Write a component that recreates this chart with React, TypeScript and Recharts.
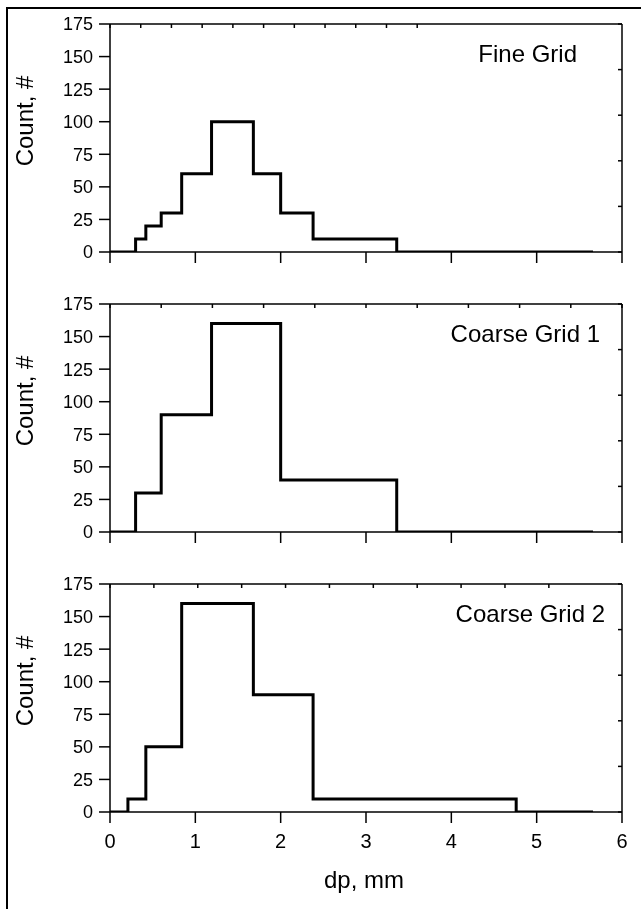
import { Label, Line, LineChart, XAxis, YAxis } from "recharts";

// bin edges (mm) and counts per bin; last edge closes the step
const fineEdges = [0, 0.3, 0.42, 0.6, 0.84, 1.19, 1.68, 2.0, 2.38, 3.36, 5.66];
const fineCounts = [0, 10, 20, 30, 60, 100, 60, 30, 10, 0, 0];

const coarse1Edges = [0, 0.3, 0.6, 1.19, 2.0, 3.36, 5.66];
const coarse1Counts = [0, 30, 90, 160, 40, 0, 0];

const coarse2Edges = [0, 0.21, 0.42, 0.84, 1.68, 2.38, 4.76, 5.66];
const coarse2Counts = [0, 10, 50, 160, 90, 10, 0, 0];

const xTicks = [0, 1, 2, 3, 4, 5, 6];
const xMinorTicks = [0, 0.6, 1.2, 1.8, 2.4, 3, 3.6, 4.2, 4.8, 5.4, 6];
const yTicks = [0, 25, 50, 75, 100, 125, 150, 175];
const yMinorTicks = [0, 17.5, 35, 52.5, 70, 87.5, 105, 122.5, 140, 157.5, 175];

const FONT = '"Liberation Sans", Arial, sans-serif';
const AXIS = { stroke: "#000", strokeWidth: 1.5 };

// keeps the tick line but draws no label
const noLabel = () => <g />;

interface PanelProps {
  name: string;
  nameX: number;
  edges: number[];
  counts: number[];
  top: number;
  showX?: boolean;
}

function Panel({ name, nameX, edges, counts, top, showX }: PanelProps) {
  const data = edges.map((x, i) => ({ x, y: counts[i] }));
  const height = showX ? 349 : 280;
  return (
    <div style={{ position: "absolute", left: 0, top }}>
      <LineChart
        width={641}
        height={height}
        data={data}
        margin={{ top: 20, right: 0, bottom: 0, left: 0 }}
        style={{ fontFamily: FONT }}
      >
        <XAxis
          dataKey="x"
          type="number"
          domain={[0, 6]}
          ticks={xTicks}
          allowDataOverflow
          height={showX ? 97 : 28}
          axisLine={AXIS}
          tickLine={AXIS}
          tickSize={11}
          tickMargin={11}
          fontSize={20}
          tick={showX ? { fill: "#000", fontSize: 20 } : noLabel}
        >
          {showX && (
            <Label
              content={() => (
                <text x={364} y={328} textAnchor="middle" fontSize={24} fill="#000" fontFamily={FONT}>
                  dp, mm
                </text>
              )}
            />
          )}
        </XAxis>
        <XAxis
          xAxisId="top"
          orientation="top"
          type="number"
          domain={[0, 6]}
          ticks={xMinorTicks}
          allowDataOverflow
          height={4}
          axisLine={AXIS}
          tickLine={AXIS}
          tickSize={-4}
          tick={noLabel}
        >
          <Label
            content={() => (
              <text x={nameX} y={61.5} textAnchor="end" fontSize={24} fill="#000" fontFamily={FONT}>
                {name}
              </text>
            )}
          />
        </XAxis>
        <YAxis
          type="number"
          domain={[0, 175]}
          ticks={yTicks}
          allowDataOverflow
          width={110}
          axisLine={AXIS}
          tickLine={AXIS}
          tickSize={11}
          tickMargin={6}
          fontSize={18}
          tick={{ fill: "#000", fontSize: 18 }}
        >
          <Label
            content={() => (
              <text
                x={33}
                y={121}
                transform="rotate(-90 33 121)"
                textAnchor="middle"
                fontSize={24}
                fill="#000"
                fontFamily={FONT}
              >
                Count, #
              </text>
            )}
          />
        </YAxis>
        <YAxis
          yAxisId="right"
          orientation="right"
          type="number"
          domain={[0, 175]}
          ticks={yMinorTicks}
          allowDataOverflow
          width={19}
          axisLine={AXIS}
          tickLine={AXIS}
          tickSize={-4}
          tick={noLabel}
        />
        <Line
          type="stepAfter"
          dataKey="y"
          stroke="#000"
          strokeWidth={3}
          dot={false}
          activeDot={false}
          isAnimationActive={false}
        />
      </LineChart>
    </div>
  );
}

export default function App() {
  return (
    <div>
      <div
        style={{
          position: "fixed",
          left: 6,
          top: 7,
          width: 700,
          height: 1000,
          border: "2px solid #000",
        }}
      />
      <Panel name="Fine Grid" nameX={577} edges={fineEdges} counts={fineCounts} top={0} />
      <Panel name="Coarse Grid 1" nameX={600} edges={coarse1Edges} counts={coarse1Counts} top={280} />
      <Panel
        name="Coarse Grid 2"
        nameX={605}
        edges={coarse2Edges}
        counts={coarse2Counts}
        top={560}
        showX
      />
    </div>
  );
}
